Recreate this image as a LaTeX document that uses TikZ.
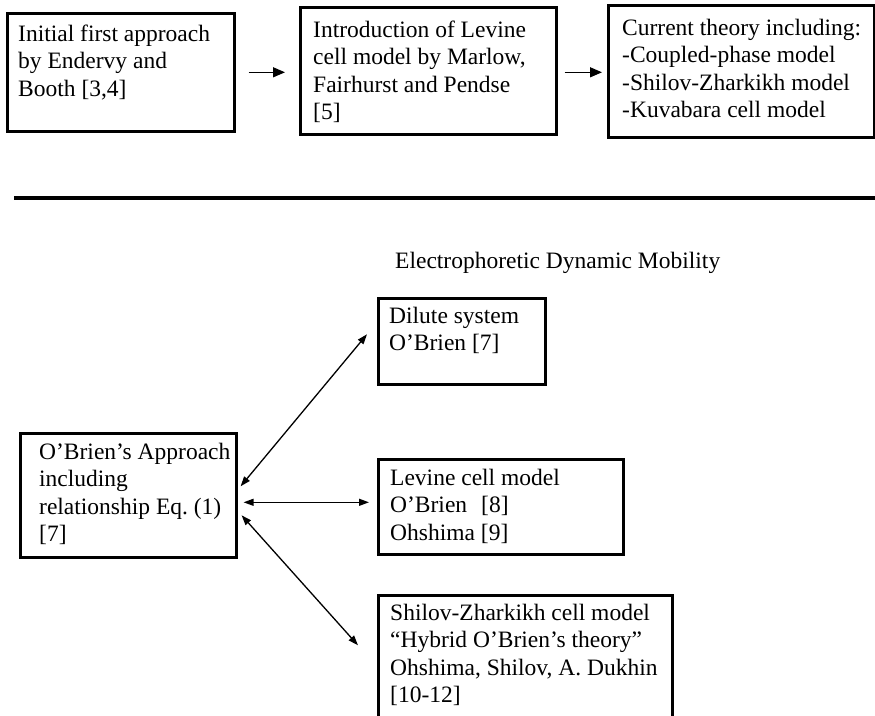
\documentclass[tikz,border=0pt]{standalone}
\usepackage{fontspec}
\setmainfont{Liberation Serif}
\usetikzlibrary{arrows.meta}

\begin{document}
\begin{tikzpicture}[x=1pt,y=-1pt,
  box/.style={draw=black, line width=2.6pt, rectangle, inner sep=0pt, anchor=north west},
  txt/.style={anchor=north west, inner sep=0pt, align=left,
              font=\fontsize{23.5}{27.5}\selectfont},
  fwd/.style={line width=1.3pt, -{Triangle[length=12pt,width=10pt]}},
  both/.style={line width=1.3pt, {Triangle[length=10pt,width=7pt]}-{Triangle[length=10pt,width=7pt]}},
  rule/.style={line width=4pt}
]
\useasboundingbox (0,0) rectangle (875,715);

% upper row: historical development
\node[box, minimum width=227pt, minimum height=118pt] (b1) at (6,12) {};
\node[txt] (b1t) at (18,22) {\strut Initial first approach\\by Endervy and\\Booth [3,4]};

\node[box, minimum width=256pt, minimum height=127pt] (b2) at (299,6) {};
\node[txt] (b2t) at (313,18) {\strut Introduction of Levine\\cell model by Marlow,\\Fairhurst and Pendse\\{}[5]};

\node[box, minimum width=266pt, minimum height=132pt] (b3) at (607,4) {};
\node[txt] (b3t) at (622,16) {\strut Current theory including:\\-Coupled-phase model\\-Shilov-Zharkikh model\\-Kuvabara cell model};

\draw[fwd] ([xshift=13pt]b1.east) -- ([xshift=-14pt]b1.east -| b2.west);
\draw[fwd] ([xshift=7pt]b2.east |- b1.east) -- ([xshift=-5pt]b3.west |- b1.east);

% separator
\draw[rule] (14,198) -- (875,198);

% lower part: dynamic mobility theories
\node[txt] (title) at (395,249) {\strut Electrophoretic Dynamic Mobility};

\node[box, minimum width=167pt, minimum height=86pt] (dil) at (377,297) {};
\node[txt] (dilt) at (389,304) {\strut Dilute system\\O’Brien [7]};

\node[box, minimum width=216pt, minimum height=124pt] (ob) at (19,432) {};
\node[txt] (obt) at (39,440) {\strut O’Brien’s Approach\\including\\relationship Eq.\ (1)\\{}[7]};

\node[box, minimum width=245pt, minimum height=95pt] (lev) at (377,458) {};
\node[txt] (levt) at (390,466) {\strut Levine cell model\\O’Brien\hspace{14pt}[8]\\Ohshima [9]};

\node[box, minimum width=294pt, minimum height=122pt] (shi) at (377,594) {};
\node[txt] (shit) at (390,601) {\strut Shilov-Zharkikh cell model\\“Hybrid O’Brien’s theory”\\Ohshima, Shilov, A. Dukhin\\{}[10-12]};

\coordinate (hs) at ([shift={(6,7)}]ob.east);
\draw[both] ([shift={(3,-9)}]ob.east) -- ([shift={(-10,-7)}]dil.west);
\draw[both] (hs) -- ([xshift=-8pt]lev.west |- hs);
\draw[both] ([shift={(4,20)}]ob.east) -- ([shift={(-19,-11)}]shi.west);
\end{tikzpicture}
\end{document}
